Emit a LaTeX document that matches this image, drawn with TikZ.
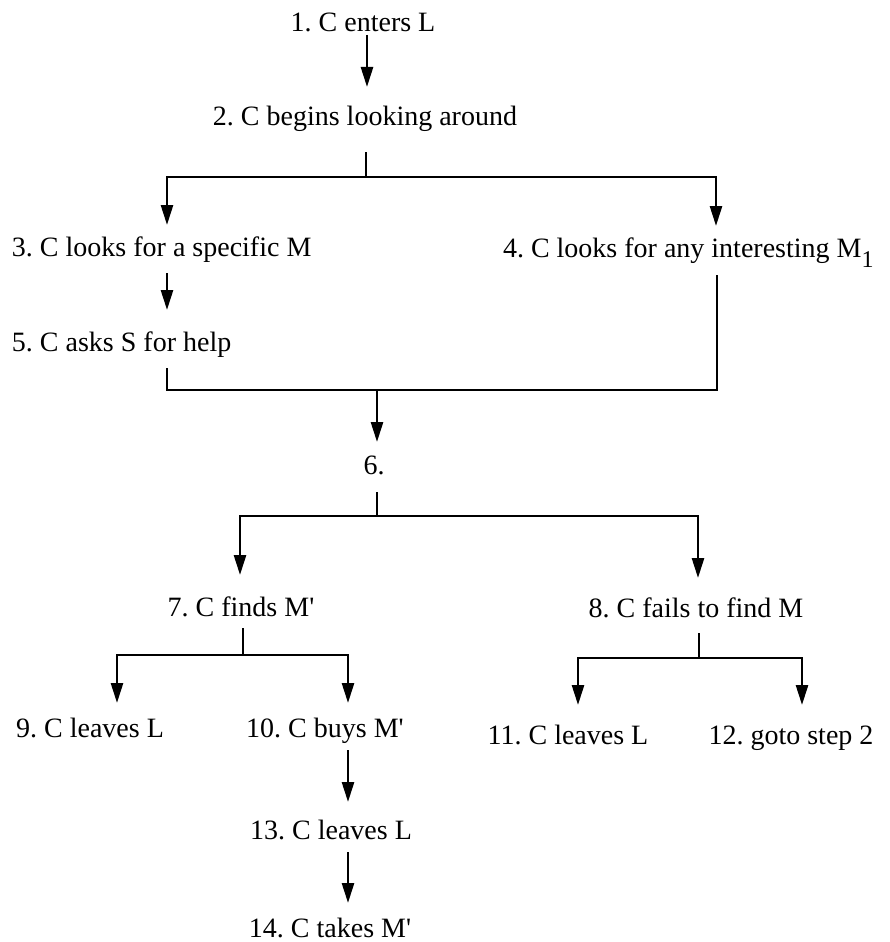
\documentclass[tikz,border=0pt]{standalone}
\usepackage{fontspec}
\setmainfont{Liberation Serif}
\usetikzlibrary{arrows.meta}
\frenchspacing
\newcommand{\prm}{\textquotesingle}
\begin{document}
\begin{tikzpicture}[x=1pt,y=-1pt,
  lbl/.style={anchor=base, inner sep=0pt, outer sep=0pt,
    text height=19pt, text depth=6pt, font=\fontsize{28}{32}\selectfont},
  wire/.style={line width=2.6pt, line join=miter},
  arr/.style={wire, -{Triangle[length=20pt,width=12pt]}}]
\useasboundingbox (0,0) rectangle (889,942);

% steps
\node[lbl] (n1) at (363,32) {1. C enters L};
\node[lbl] (n2) at (365,125) {2. C begins looking around};
\node[lbl, anchor=base west] (n3) at (12,256) {3. C looks for a specific M};
\node[lbl, anchor=base west] (n4) at (503,257) {4. C looks for any interesting M\raisebox{-10pt}{\fontsize{24}{24}\selectfont 1}};
\node[lbl, anchor=base west] (n5) at (12,351) {5. C asks S for help};
\node[lbl] (n6) at (374,474) {6.};
\node[lbl] (n7) at (241,616) {7. C finds M\prm};
\node[lbl] (n8) at (696,617) {8. C fails to find M};
\node[lbl] (n9) at (90,737) {9. C leaves L};
\node[lbl] (n10) at (325,737) {10. C buys M\prm};
\node[lbl] (n11) at (568,744) {11. C leaves L};
\node[lbl] (n12) at (791,744) {12. goto step 2};
\node[lbl] (n13) at (331,839) {13. C leaves L};
\node[lbl] (n14) at (330,937) {14. C takes M\prm};

% junction and corner points of the branching bars
\coordinate (x1) at (367,0);
\coordinate (j2) at (366,177);
\coordinate (b3) at (167,177);
\coordinate (b4) at (716,177);
\coordinate (m5) at (167,390);
\coordinate (m4) at (717,390);
\coordinate (j6in) at (377,390);
\coordinate (j6) at (377,516);
\coordinate (b7) at (240,516);
\coordinate (b8) at (698,516);
\coordinate (j7) at (243,655);
\coordinate (b9) at (117,655);
\coordinate (b10) at (348,655);
\coordinate (j8) at (699,658);
\coordinate (b11) at (578,658);
\coordinate (b12) at (802,658);

% 1 -> 2
\draw[arr, shorten <=-3pt, shorten >=19pt] (n1.south -| x1) -- (n2.north -| x1);

% 2 -> 3 / 4
\draw[wire, shorten <=21pt] (n2.south -| j2) -- (j2);
\draw[arr, shorten >=12pt] (j2) -- (b3) -- (b3 |- n3.north);
\draw[arr, shorten >=12pt] (j2) -- (b4) -- (b4 |- n4.north);

% 3 -> 5
\draw[arr, shorten <=11pt, shorten >=22pt] (n3.south -| b3) -- (n5.north -| b3);

% 5 and 4 merge into 6
\draw[wire, shorten <=11pt, shorten >=12pt] (n5.south -| m5) -- (m5) -- (m4) -- (m4 |- n4.south);
\draw[arr, shorten >=13pt] (j6in) -- (n6.north -| j6in);

% 6 -> 7 / 8
\draw[wire, shorten <=12pt] (n6.south -| j6) -- (j6);
\draw[arr, shorten >=22pt] (j6) -- (b7) -- (b7 |- n7.north);
\draw[arr, shorten >=20pt] (j6) -- (b8) -- (b8 |- n8.north);

% 7 -> 9 / 10
\draw[wire, shorten <=6pt] (n7.south -| j7) -- (j7);
\draw[arr, shorten >=15pt] (j7) -- (b9) -- (b9 |- n9.north);
\draw[arr, shorten >=15pt] (j7) -- (b10) -- (b10 |- n10.north);

% 8 -> 11 / 12
\draw[wire, shorten <=10pt] (n8.south -| j8) -- (j8);
\draw[arr, shorten >=20pt] (j8) -- (b11) -- (b11 |- n11.north);
\draw[arr, shorten >=20pt] (j8) -- (b12) -- (b12 |- n12.north);

% 10 -> 13 -> 14
\draw[arr, shorten <=7pt, shorten >=18pt] (n10.south -| b10) -- (n13.north -| b10);
\draw[arr, shorten <=7pt, shorten >=15pt] (n13.south -| b10) -- (n14.north -| b10);
\end{tikzpicture}
\end{document}
